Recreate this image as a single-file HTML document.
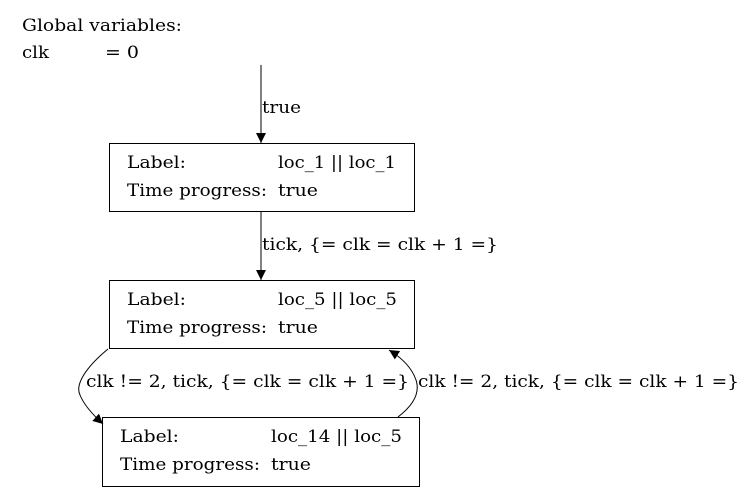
<!DOCTYPE html>
<html><head><style>
body{margin:0;background:#fff;}
svg text{font-family:"DejaVu Serif","Liberation Serif",serif;font-size:17px;fill:#000;}
</style></head><body>
<svg width="747" height="492" viewBox="0 0 747 492" xmlns="http://www.w3.org/2000/svg">
<defs><marker id="a" markerWidth="10" markerHeight="10" refX="10" refY="5" orient="auto" markerUnits="userSpaceOnUse"><path d="M0,0 L10,5 L0,10 Z" fill="#000"/></marker></defs>
<text x="22" y="31" textLength="160" lengthAdjust="spacingAndGlyphs">Global variables:</text>
<text x="22" y="58" textLength="27" lengthAdjust="spacingAndGlyphs">clk</text><text x="105" y="58" textLength="34" lengthAdjust="spacingAndGlyphs">= 0</text>
<line x1="261" y1="65" x2="261" y2="143" stroke="#000" marker-end="url(#a)"/>
<text x="262" y="113" textLength="39" lengthAdjust="spacingAndGlyphs">true</text>
<rect x="109.5" y="143.5" width="305" height="68" fill="none" stroke="#000"/>
<text x="127" y="168" textLength="59" lengthAdjust="spacingAndGlyphs">Label:</text><text x="278" y="168" textLength="118" lengthAdjust="spacingAndGlyphs">loc_1 || loc_1</text>
<text x="127" y="196" textLength="140" lengthAdjust="spacingAndGlyphs">Time progress:</text><text x="278" y="196" textLength="40" lengthAdjust="spacingAndGlyphs">true</text>
<line x1="261" y1="211" x2="261" y2="280" stroke="#000" marker-end="url(#a)"/>
<text x="262" y="250" textLength="236" lengthAdjust="spacingAndGlyphs">tick, {= clk = clk + 1 =}</text>
<rect x="109.5" y="280.5" width="305" height="68" fill="none" stroke="#000"/>
<text x="127" y="305" textLength="59" lengthAdjust="spacingAndGlyphs">Label:</text><text x="278" y="305" textLength="119" lengthAdjust="spacingAndGlyphs">loc_5 || loc_5</text>
<text x="127" y="333" textLength="140" lengthAdjust="spacingAndGlyphs">Time progress:</text><text x="278" y="333" textLength="40" lengthAdjust="spacingAndGlyphs">true</text>
<path d="M108,349 C85,368 75,385 80,395 C84,405 92,414 103,424" fill="none" stroke="#000" marker-end="url(#a)"/>
<text x="86" y="387" textLength="323" lengthAdjust="spacingAndGlyphs">clk != 2, tick, {= clk = clk + 1 =}</text>
<path d="M398,417 C415,404 420,392 416,380 C412,368 402,358 389,350" fill="none" stroke="#000" marker-end="url(#a)"/>
<text x="418" y="387" textLength="321" lengthAdjust="spacingAndGlyphs">clk != 2, tick, {= clk = clk + 1 =}</text>
<rect x="102.5" y="417.5" width="317" height="69" fill="none" stroke="#000"/>
<text x="120" y="442" textLength="59" lengthAdjust="spacingAndGlyphs">Label:</text><text x="271" y="442" textLength="131" lengthAdjust="spacingAndGlyphs">loc_14 || loc_5</text>
<text x="120" y="470" textLength="140" lengthAdjust="spacingAndGlyphs">Time progress:</text><text x="271" y="470" textLength="40" lengthAdjust="spacingAndGlyphs">true</text>
</svg>
</body></html>
